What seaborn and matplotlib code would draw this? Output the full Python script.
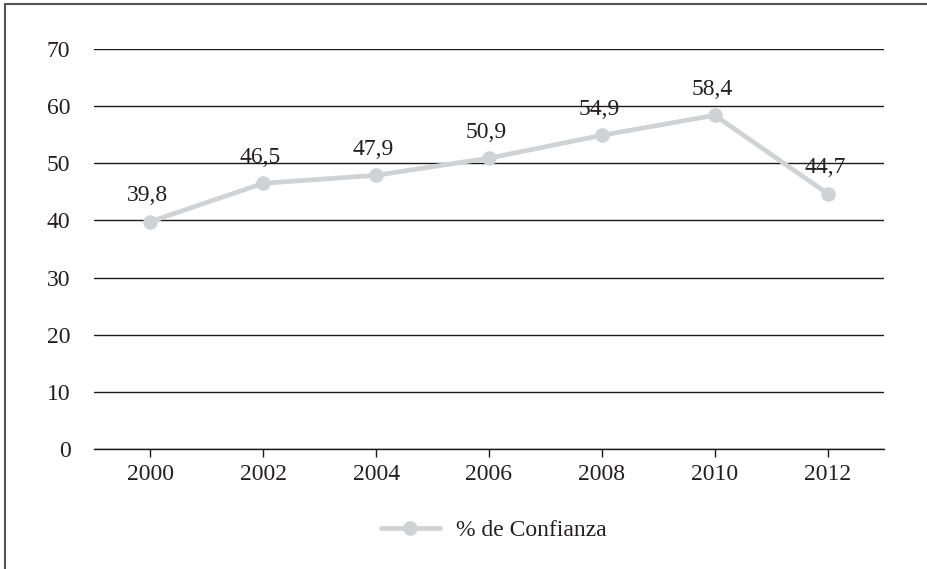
import matplotlib
matplotlib.use("Agg")
import matplotlib.pyplot as plt
from matplotlib.lines import Line2D
import seaborn as sns
import pandas as pd

years = ["2000", "2002", "2004", "2006", "2008", "2010", "2012"]
confianza = [39.8, 46.5, 47.9, 50.9, 54.9, 58.4, 44.7]
value_labels = ["39,8", "46,5", "47,9", "50,9", "54,9", "58,4", "44,7"]
y_ticks = [0, 10, 20, 30, 40, 50, 60, 70]
series_name = "% de Confianza"

sns.set_theme(style="white")
plt.rcParams["font.family"] = ["Liberation Serif", "DejaVu Serif"]

TEXT = "#231f20"
LINE = "#d1d2d4"
FS = 17

W, H = 927, 569
fig = plt.figure(figsize=(W / 100, H / 100), dpi=100)
ax = fig.add_axes([94 / W, 1 - 449 / H, (884 - 94) / W, 400 / H])

df = pd.DataFrame({"year": years, "value": confianza})
sns.lineplot(data=df, x="year", y="value", ax=ax, color=LINE, linewidth=3.4,
             marker="o", markersize=10.5, markeredgewidth=0, label=series_name,
             legend=False, sort=False)

for i, (v, lab) in enumerate(zip(confianza, value_labels)):
    ax.annotate(lab, (i, v), xytext=(-2, 11), textcoords="offset points",
                ha="center", va="bottom", fontsize=FS, color=TEXT)

ax.set_xlim(-0.5, len(years) - 0.5)
ax.set_ylim(0, 70)
ax.set_yticks(y_ticks)
ax.set_yticklabels([str(t) for t in y_ticks])
ax.set_xlabel("")
ax.set_ylabel("")
ax.yaxis.grid(True, color="#1a1a1a", linewidth=1.0)
ax.xaxis.grid(False)
ax.set_axisbelow(True)
for side in ["top", "right", "left"]:
    ax.spines[side].set_visible(False)
ax.spines["bottom"].set_color("#1a1a1a")
ax.spines["bottom"].set_linewidth(1.0)
ax.tick_params(axis="x", bottom=True, length=6, width=1, color="#1a1a1a",
               labelsize=FS, labelcolor=TEXT, pad=5)
ax.tick_params(axis="y", left=False, labelsize=FS, labelcolor=TEXT, pad=11)

handle = Line2D([], [], color=LINE, linewidth=3.4, marker="o", markersize=10.5,
                markeredgewidth=0)
fig.legend([handle], [series_name], loc="center", bbox_to_anchor=(494 / W, 1 - 530 / H),
           frameon=False, fontsize=FS, labelcolor=TEXT, handlelength=2.5,
           handletextpad=0.7)

# frame edges on the top and left of the figure
fig.add_artist(Line2D([4.5 / W, 4.5 / W], [0, 1 - 3.5 / H], transform=fig.transFigure,
                      color="#555555", linewidth=1.5))
fig.add_artist(Line2D([4.5 / W, 1], [1 - 3.5 / H, 1 - 3.5 / H], transform=fig.transFigure,
                      color="#555555", linewidth=1.5))

fig.savefig("out.png", dpi=100, facecolor="white")
